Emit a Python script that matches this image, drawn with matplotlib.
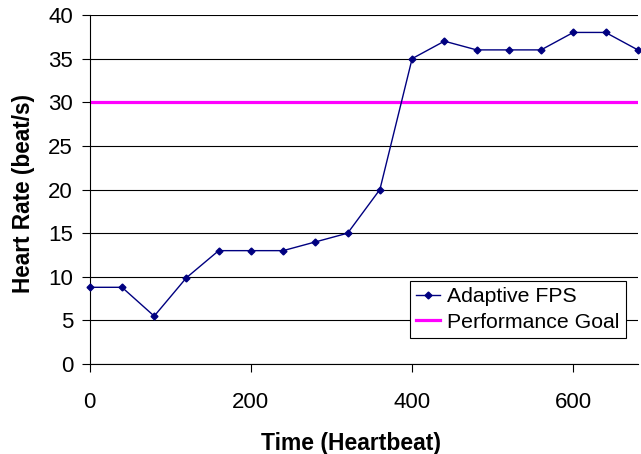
import matplotlib
matplotlib.use('Agg')
import matplotlib.pyplot as plt

# Values
time = [0, 40, 80, 120, 160, 200, 240, 280, 320, 360, 400, 440, 480, 520, 560, 600, 640, 680]
heart_rate = [8.8, 8.8, 5.5, 9.9, 13, 13, 13, 14, 15, 20, 35, 37, 36, 36, 36, 38, 38, 36]
goal = 30
x_ticks = [0, 200, 400, 600]
y_ticks = [0, 5, 10, 15, 20, 25, 30, 35, 40]

plt.rcParams['font.family'] = ['Liberation Sans', 'DejaVu Sans']

fig = plt.figure(figsize=(6.41, 4.54), dpi=100)
ax = fig.add_axes([0.140, 0.198, 0.855, 0.769])

for y in y_ticks:
    ax.axhline(y, color='black', lw=0.8, zorder=1)

ax.plot(time, heart_rate, color='#000080', lw=1.0, marker='D', markersize=3.5,
        label='Adaptive FPS', zorder=3, clip_on=False)
ax.axhline(goal, color='#FF00FF', lw=2.3, label='Performance Goal', zorder=2)

ax.set_xlim(0, 680)
ax.set_ylim(0, 40)
ax.set_xticks(x_ticks)
ax.set_yticks(y_ticks)
ax.tick_params(axis='x', direction='out', length=6, width=0.8, pad=14, labelsize=16)
ax.tick_params(axis='y', direction='out', length=6, width=0.8, pad=6, labelsize=16)

for side in ['top', 'right']:
    ax.spines[side].set_visible(False)
ax.spines['left'].set_linewidth(0.8)
ax.spines['bottom'].set_linewidth(0.8)

ax.set_xlabel('Time (Heartbeat)', fontsize=16.5, fontweight='bold')
ax.set_ylabel('Heart Rate (beat/s)', fontsize=16.3, fontweight='bold')
ax.xaxis.set_label_coords(0.476, -0.195)
ax.yaxis.set_label_coords(-0.100, 0.49)

leg = ax.legend(loc='lower left', bbox_to_anchor=(0.584, 0.0745), borderaxespad=0,
                fontsize=15.3, fancybox=False, framealpha=1, edgecolor='black',
                handlelength=1.1, handletextpad=0.35, labelspacing=0.3,
                borderpad=0.3)
leg.get_frame().set_linewidth(0.8)

fig.savefig('out.png', dpi=100)
